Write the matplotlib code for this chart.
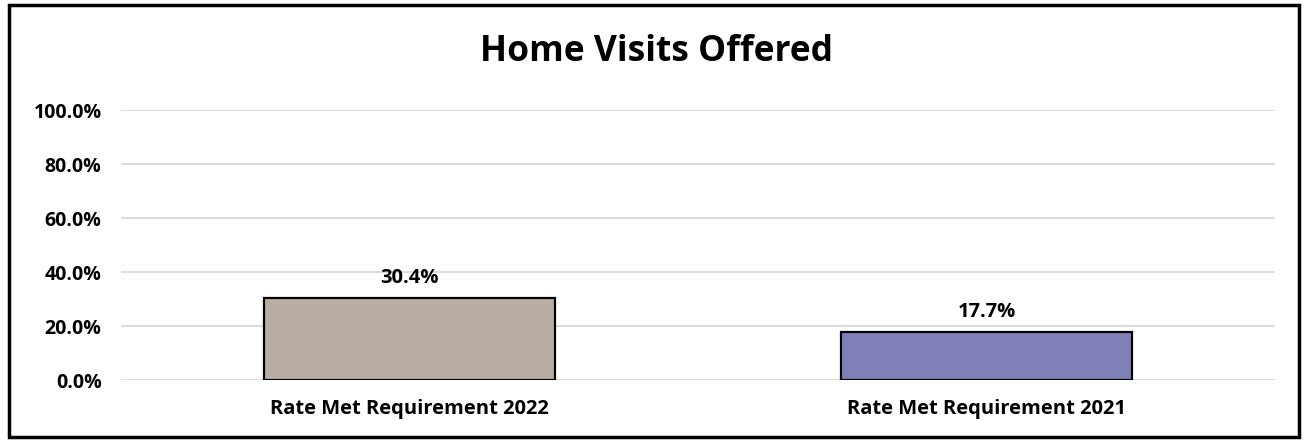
import matplotlib.pyplot as plt
from matplotlib.patches import Rectangle
from matplotlib.ticker import FuncFormatter

categories = ['Rate Met Requirement 2022', 'Rate Met Requirement 2021']
values = [30.4, 17.7]
bar_colors = ['#b8ada2', '#8080b8']
yticks = [0, 20, 40, 60, 80, 100]

plt.rcParams['font.family'] = ['Open Sans', 'DejaVu Sans']

fig = plt.figure(figsize=(13.04, 4.41), dpi=100)
ax = fig.add_axes([121 / 1304, 61 / 441, 1154 / 1304, 270 / 441])

x = range(len(categories))
bars = ax.bar(x, values, width=0.505, color=bar_colors,
              edgecolor='black', linewidth=1.6, zorder=3)

for b, v in zip(bars, values):
    ax.text(b.get_x() + b.get_width() / 2, v + 3.6, f'{v:.1f}%',
            ha='center', va='bottom', fontsize=14.5, fontweight='bold')

ax.set_xlim(-0.5, len(categories) - 0.5)
ax.set_ylim(0, 100)
ax.set_yticks(yticks)
ax.yaxis.set_major_formatter(FuncFormatter(lambda v, p: f'{v:.1f}%'))
ax.set_xticks(list(x))
ax.set_xticklabels(categories)
for lab in ax.get_xticklabels():
    lab.set_fontweight('bold')
    lab.set_fontsize(14.5)
for lab in ax.get_yticklabels():
    lab.set_fontweight('bold')
    lab.set_fontsize(14)
ax.tick_params(axis='both', length=0)
ax.tick_params(axis='y', pad=14)
ax.tick_params(axis='x', pad=14)
ax.grid(axis='y', color='#d9d9d9', linewidth=1.3, zorder=0)
for s in ax.spines.values():
    s.set_visible(False)

fig.text(656 / 1304, 1 - 52 / 441, 'Home Visits Offered', ha='center', va='center',
         fontsize=25.5, fontweight='bold')

# outer frame
fig.patches.append(Rectangle((9 / 1304, 4 / 441), 1290 / 1304, 432 / 441,
                             transform=fig.transFigure, fill=False,
                             edgecolor='black', linewidth=2.5))

fig.savefig('out.png', dpi=100)
